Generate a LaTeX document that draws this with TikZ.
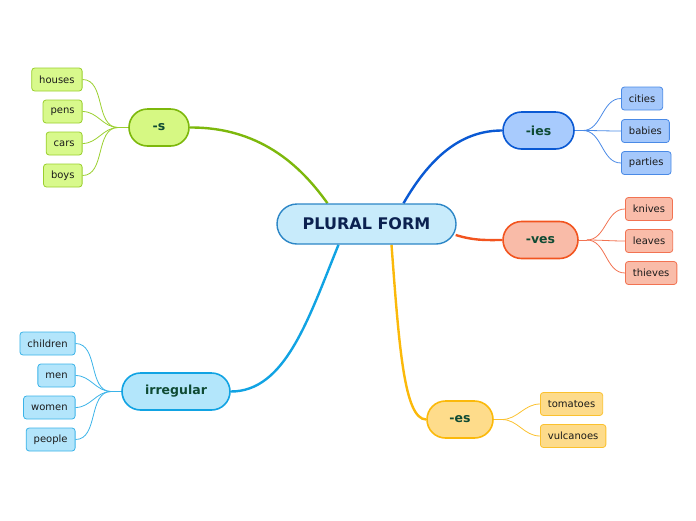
\documentclass[tikz,border=0pt]{standalone}
\usepackage{fontspec}
\setmainfont{DejaVu Sans}
\usetikzlibrary{shapes.misc,calc}
\pgfdeclarelayer{bg}
\pgfsetlayers{bg,main}
\definecolor{cfill}{HTML}{C8EBFB}
\definecolor{cdraw}{HTML}{2C86C6}
\definecolor{ctext}{HTML}{0B2150}
\definecolor{btext}{HTML}{0E4A33}
\definecolor{ltext}{HTML}{1A1A1A}
% green
\definecolor{gfill}{HTML}{D6F883}
\definecolor{gdraw}{HTML}{7DB80C}
\definecolor{glfill}{HTML}{D8F98C}
\definecolor{gldraw}{HTML}{9ACF2E}
% blue
\definecolor{bfill}{HTML}{A8CBFD}
\definecolor{bdraw}{HTML}{0A59D3}
\definecolor{blfill}{HTML}{A5C8FB}
\definecolor{bldraw}{HTML}{4A8AE6}
% orange
\definecolor{ofill}{HTML}{F9BBA8}
\definecolor{odraw}{HTML}{F2541F}
\definecolor{olfill}{HTML}{F9BCA9}
\definecolor{oldraw}{HTML}{F27352}
% cyan
\definecolor{yfill}{HTML}{B3E6FB}
\definecolor{ydraw}{HTML}{11A3E3}
\definecolor{ylfill}{HTML}{B3E5FB}
\definecolor{yldraw}{HTML}{3BB3E8}
% yellow
\definecolor{efill}{HTML}{FEDC8B}
\definecolor{edraw}{HTML}{FBB90A}
\definecolor{elfill}{HTML}{FDDB8B}
\definecolor{eldraw}{HTML}{FBC12E}
\begin{document}
\begin{tikzpicture}[x=1pt,y=-1pt,
  centernode/.style={rounded rectangle, draw=cdraw, fill=cfill, line width=1.4pt,
    minimum width=179pt, minimum height=40pt, inner sep=0pt, text=ctext,
    font=\bfseries\fontsize{16}{16}\selectfont},
  branch/.style={rounded rectangle, line width=1.6pt, minimum height=37pt, inner sep=0pt,
    text=btext, font=\bfseries\fontsize{12.5}{12.5}\selectfont},
  leaf/.style={rectangle, rounded corners=3pt, line width=0.8pt, minimum height=23pt,
    inner xsep=7.5pt, inner ysep=0pt, text=ltext, font=\fontsize{10}{10}\selectfont},
  mainline/.style={line width=2.4pt},
  leafline/.style={line width=0.8pt}
]
\useasboundingbox (0,0) rectangle (696,520);

\node[centernode] (c) at (366.5,224) {PLURAL FORM};
\node[branch, draw=gdraw, fill=gfill, minimum width=60pt] (s) at (159,127.5) {-s};
\node[branch, draw=bdraw, fill=bfill, minimum width=71pt] (ies) at (538.5,130.5) {-ies};
\node[branch, draw=odraw, fill=ofill, minimum width=75pt] (ves) at (540.5,240) {-ves};
\node[branch, draw=ydraw, fill=yfill, minimum width=108pt] (irr) at (176,391.5) {irregular};
\node[branch, draw=edraw, fill=efill, minimum width=66pt] (es) at (460,419.5) {-es};

\coordinate (cs) at ($(c.north)+(-39,0)$);
\coordinate (cies) at ($(c.north)+(37,0)$);
\coordinate (cves) at ($(c.east)+(-1,11)$);
\coordinate (cirr) at ($(c.south)+(-28,0)$);
\coordinate (ces) at ($(c.south)+(25,0)$);

\begin{pgfonlayer}{bg}
\draw[mainline, draw=gdraw] (cs) .. controls (305,172) and (265,127) .. (s.east);
\draw[mainline, draw=bdraw] (cies) .. controls (433,152) and (465,130.5) .. (ies.west);
\draw[mainline, draw=odraw] (cves) .. controls (475,241) and (488,240) .. (ves.west);
\draw[mainline, draw=ydraw] (cirr) .. controls (308,320) and (285,391.5) .. (irr.east);
\draw[mainline, draw=edraw] (ces) .. controls (399,345) and (404,419.5) .. (es.west);
\end{pgfonlayer}

% leaves -s
\node[leaf, draw=gldraw, fill=glfill, anchor=east] (houses) at (82.5,79.5) {houses};
\node[leaf, draw=gldraw, fill=glfill, anchor=east] (pens) at (82.5,111.5) {pens};
\node[leaf, draw=gldraw, fill=glfill, anchor=east] (cars) at (82.5,143.5) {cars};
\node[leaf, draw=gldraw, fill=glfill, anchor=east] (boys) at (82.5,175.5) {boys};
\coordinate (sj) at ($(s.west)+(-10,0)$);
\draw[leafline, draw=gldraw] (s.west) -- (sj);
\foreach \n in {houses,pens,cars,boys}
  \draw[leafline, draw=gldraw] (sj) to[out=180,in=0] (\n.east);

% leaves -ies
\node[leaf, draw=bldraw, fill=blfill, anchor=west] (cities) at (621,98.5) {cities};
\node[leaf, draw=bldraw, fill=blfill, anchor=west] (babies) at (621,131) {babies};
\node[leaf, draw=bldraw, fill=blfill, anchor=west] (parties) at (621,163) {parties};
\coordinate (iesj) at ($(ies.east)+(8,0)$);
\draw[leafline, draw=bldraw] (ies.east) -- (iesj);
\foreach \n in {cities,babies,parties}
  \draw[leafline, draw=bldraw] (iesj) to[out=0,in=180] (\n.west);

% leaves -ves
\node[leaf, draw=oldraw, fill=olfill, anchor=west] (knives) at (625,209) {knives};
\node[leaf, draw=oldraw, fill=olfill, anchor=west] (leaves) at (625,241) {leaves};
\node[leaf, draw=oldraw, fill=olfill, anchor=west] (thieves) at (625,273) {thieves};
\coordinate (vesj) at ($(ves.east)+(8,0)$);
\draw[leafline, draw=oldraw] (ves.east) -- (vesj);
\foreach \n in {knives,leaves,thieves}
  \draw[leafline, draw=oldraw] (vesj) to[out=0,in=180] (\n.west);

% leaves irregular
\node[leaf, draw=yldraw, fill=ylfill, anchor=east] (children) at (75.5,343.5) {children};
\node[leaf, draw=yldraw, fill=ylfill, anchor=east] (men) at (75.5,375.5) {men};
\node[leaf, draw=yldraw, fill=ylfill, anchor=east] (women) at (75.5,407.5) {women};
\node[leaf, draw=yldraw, fill=ylfill, anchor=east] (people) at (75.5,439.5) {people};
\coordinate (irrj) at ($(irr.west)+(-10,0)$);
\draw[leafline, draw=yldraw] (irr.west) -- (irrj);
\foreach \n in {children,men,women,people}
  \draw[leafline, draw=yldraw] (irrj) to[out=180,in=0] (\n.east);

% leaves -es
\node[leaf, draw=eldraw, fill=elfill, anchor=west] (tomatoes) at (540,404) {tomatoes};
\node[leaf, draw=eldraw, fill=elfill, anchor=west] (vulcanoes) at (540,436) {vulcanoes};
\coordinate (esj) at ($(es.east)+(8,0)$);
\draw[leafline, draw=eldraw] (es.east) -- (esj);
\foreach \n in {tomatoes,vulcanoes}
  \draw[leafline, draw=eldraw] (esj) to[out=0,in=180] (\n.west);
\end{tikzpicture}
\end{document}
